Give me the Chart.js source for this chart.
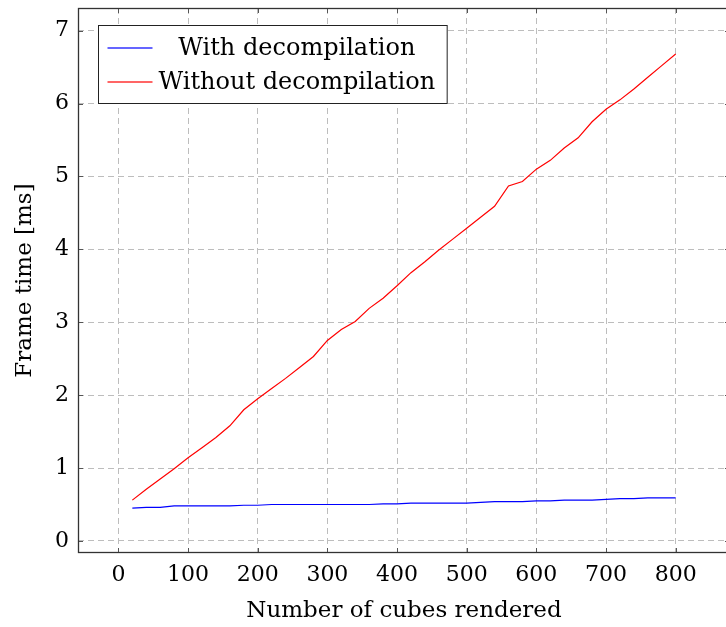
<!DOCTYPE html>
<html>
<head>
<meta charset="utf-8">
<script src="https://cdn.jsdelivr.net/npm/chart.js@4.4.0/dist/chart.umd.min.js"></script>
<style>
  html, body { margin: 0; padding: 0; background: #fff; overflow: hidden; }
  .wrap { width: 740px; height: 627px; }
</style>
</head>
<body>
<div class="wrap"><canvas id="myChart"></canvas></div>
<script>
// Data
const cubes = [20, 40, 60, 80, 100, 120, 140, 160, 180, 200, 220, 240, 260, 280, 300, 320, 340, 360, 380, 400,
               420, 440, 460, 480, 500, 520, 540, 560, 580, 600, 620, 640, 660, 680, 700, 720, 740, 760, 780, 800];
const withDecomp = [0.45, 0.46, 0.46, 0.48, 0.48, 0.48, 0.48, 0.48, 0.49, 0.49, 0.50, 0.50, 0.50, 0.50, 0.50, 0.50, 0.50, 0.50, 0.51, 0.51,
                    0.52, 0.52, 0.52, 0.52, 0.52, 0.53, 0.54, 0.54, 0.54, 0.55, 0.55, 0.56, 0.56, 0.56, 0.57, 0.58, 0.58, 0.59, 0.59, 0.59];
const withoutDecomp = [0.56, 0.71, 0.85, 0.99, 1.14, 1.28, 1.42, 1.58, 1.80, 1.95, 2.09, 2.23, 2.38, 2.53, 2.75, 2.90, 3.01, 3.19, 3.33, 3.50,
                       3.68, 3.83, 3.99, 4.14, 4.29, 4.44, 4.59, 4.87, 4.93, 5.10, 5.22, 5.39, 5.53, 5.75, 5.92, 6.05, 6.20, 6.36, 6.52, 6.68];
const xTicks = [0, 100, 200, 300, 400, 500, 600, 700, 800];
const yTicks = [0, 1, 2, 3, 4, 5, 6, 7];
const seriesLabels = ["With decompilation", "Without decompilation"];
const seriesColors = ["#0000ff", "#ff0000"];

const FONT = "'DejaVu Serif', 'Liberation Serif', serif";

// Frame, inward tick marks and the boxed legend (pgfplots look)
const framePlugin = {
    id: 'frame',
    afterDatasetsDraw(chart) {
        const { ctx, chartArea: a, scales: { x, y } } = chart;
        ctx.save();
        ctx.strokeStyle = '#555';
        ctx.lineWidth = 1;
        ctx.beginPath();
        xTicks.forEach(v => {
            const px = Math.round(x.getPixelForValue(v)) + 0.5;
            ctx.moveTo(px, a.bottom); ctx.lineTo(px, a.bottom - 5);
            ctx.moveTo(px, a.top); ctx.lineTo(px, a.top + 5);
        });
        yTicks.forEach(v => {
            const py = Math.round(y.getPixelForValue(v)) + 0.5;
            ctx.moveTo(a.left, py); ctx.lineTo(a.left + 5, py);
            ctx.moveTo(a.right, py); ctx.lineTo(a.right - 5, py);
        });
        ctx.stroke();
        ctx.strokeStyle = '#333';
        ctx.lineWidth = 1.3;
        ctx.strokeRect(Math.round(a.left) + 0.5, Math.round(a.top) + 0.5, Math.round(a.right - a.left) - 1, Math.round(a.bottom - a.top) - 1);

        // legend
        ctx.font = "24px " + FONT;
        const textW = Math.max(...seriesLabels.map(t => ctx.measureText(t).width));
        const lx = Math.round(a.left + 20) + 0.5, ly = Math.round(a.top + 17) + 0.5;
        const w = 60 + textW + 12, h = 78;
        ctx.fillStyle = '#fff';
        ctx.fillRect(lx, ly, w, h);
        ctx.strokeStyle = '#222';
        ctx.lineWidth = 1;
        ctx.strokeRect(lx, ly, w, h);
        const textCenter = lx + 60 + textW / 2;
        seriesLabels.forEach((t, i) => {
            const ry = Math.round(ly + 22 + i * 34);
            ctx.fillStyle = seriesColors[i];
            ctx.fillRect(lx + 9, ry - 0.6, 45, 1.2);
            ctx.fillStyle = '#000';
            ctx.textAlign = 'center';
            ctx.textBaseline = 'middle';
            ctx.fillText(t, textCenter, ry + 1);
        });
        ctx.restore();
    }
};

const ctx = document.getElementById("myChart").getContext("2d");
new Chart(ctx, {
    type: 'line',
    data: {
        labels: cubes,
        datasets: [
            { label: seriesLabels[0], data: withDecomp, borderColor: seriesColors[0], borderWidth: 1.2, pointRadius: 0, tension: 0, fill: false },
            { label: seriesLabels[1], data: withoutDecomp, borderColor: seriesColors[1], borderWidth: 1.2, pointRadius: 0, tension: 0, fill: false }
        ]
    },
    options: {
        responsive: true,
        maintainAspectRatio: false,
        animation: false,
        layout: { padding: { top: 8, left: 0, right: 10, bottom: 0 } },
        plugins: {
            legend: { display: false },
            tooltip: { enabled: false }
        },
        scales: {
            x: {
                type: 'linear',
                min: -58,
                max: 878,
                afterBuildTicks: scale => { scale.ticks = xTicks.map(v => ({ value: v })); },
                afterFit: scale => { scale.height = 74; scale.paddingLeft = 0; scale.paddingRight = 0; },
                grid: { color: '#bdbdbd', lineWidth: 1, drawTicks: false },
                border: { display: false, dash: [6, 4] },
                ticks: { color: '#000', font: { family: FONT, size: 22 }, padding: 9, maxRotation: 0 },
                title: { display: true, text: 'Number of cubes rendered', color: '#000', font: { family: FONT, size: 23 }, padding: { top: 4, bottom: 2 } }
            },
            y: {
                type: 'linear',
                min: -0.165,
                max: 7.31,
                afterBuildTicks: scale => { scale.ticks = yTicks.map(v => ({ value: v })); },
                afterFit: scale => { scale.width = 78; scale.paddingTop = 0; scale.paddingBottom = 0; },
                grid: { color: '#bdbdbd', lineWidth: 1, drawTicks: false },
                border: { display: false, dash: [6, 4] },
                ticks: { color: '#000', font: { family: FONT, size: 22 }, padding: 9 },
                title: { display: true, text: 'Frame time [ms]', color: '#000', font: { family: FONT, size: 23 }, padding: { top: 11, bottom: 4 } }
            }
        }
    },
    plugins: [framePlugin]
});
</script>
</body>
</html>
